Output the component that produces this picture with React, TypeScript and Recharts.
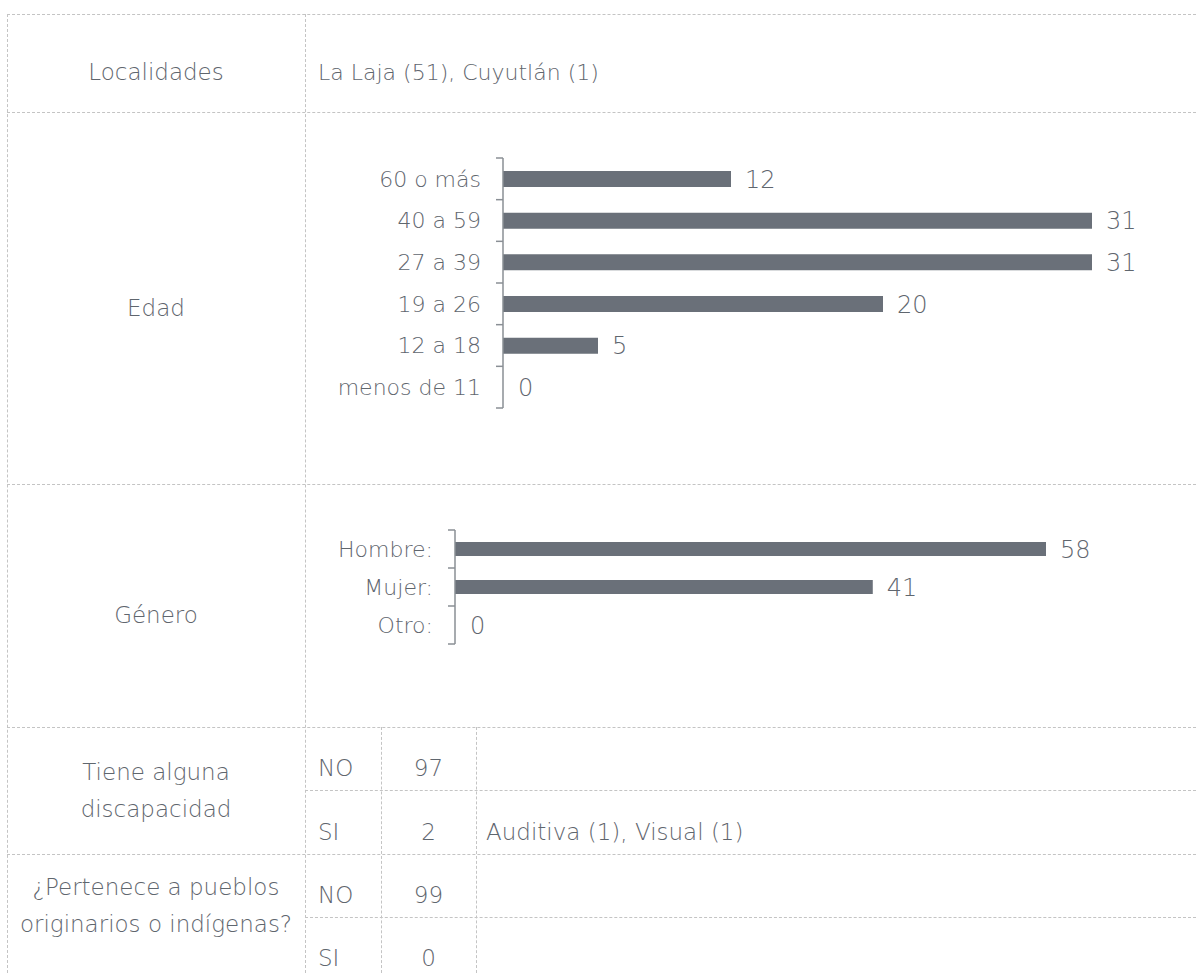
import React from 'react';
import { BarChart, Bar, XAxis, YAxis, LabelList, Cell } from 'recharts';

const FONT = '"DejaVu Sans", sans-serif';
const TEXT_COLOR = '#5f666e';
const BAR_COLOR = '#6a7079';
const AXIS_COLOR = '#8a8f95';
const LINE = '1px dashed #c4c4c4';

// datos
const LOCALIDADES = 'La Laja (51), Cuyutlán (1)';
const EDAD_CATEGORIAS = ['60 o más', '40 a 59', '27 a 39', '19 a 26', '12 a 18', 'menos de 11'];
const EDAD_VALORES = [12, 31, 31, 20, 5, 0];
const GENERO_CATEGORIAS = ['Hombre:', 'Mujer:', 'Otro:'];
const GENERO_VALORES = [58, 41, 0];
const DISCAPACIDAD_RESPUESTAS = ['NO', 'SI'];
const DISCAPACIDAD_VALORES = [97, 2];
const DISCAPACIDAD_DETALLE = ['', 'Auditiva (1), Visual (1)'];
const INDIGENA_RESPUESTAS = ['NO', 'SI'];
const INDIGENA_VALORES = [99, 0];

const edadData = EDAD_CATEGORIAS.map((name, i) => ({ name, value: EDAD_VALORES[i] }));
const generoData = GENERO_CATEGORIAS.map((name, i) => ({ name, value: GENERO_VALORES[i] }));

const TICK_SIZE = 7;
const TICK_MARGIN = 15;

function BracketTick(props: any) {
  const { x, y, payload, index, band } = props;
  const ax = x + TICK_SIZE + TICK_MARGIN;
  return (
    <g>
      <text x={x} y={y} dy="0.36em" textAnchor="end" fill={TEXT_COLOR} fontSize={22}>
        {payload.value}
      </text>
      <line x1={ax - TICK_SIZE} x2={ax} y1={y + band / 2} y2={y + band / 2} stroke={AXIS_COLOR} strokeWidth={1.5} />
      {index === 0 && (
        <line x1={ax - TICK_SIZE} x2={ax} y1={y - band / 2} y2={y - band / 2} stroke={AXIS_COLOR} strokeWidth={1.5} />
      )}
    </g>
  );
}

function HBars({ data, width, height, margin, axisWidth, barSize, band }: any) {
  return (
    <BarChart width={width} height={height} data={data} layout="vertical" margin={margin}>
      <XAxis type="number" hide domain={[0, 'dataMax']} />
      <YAxis
        type="category"
        dataKey="name"
        width={axisWidth}
        tickSize={TICK_SIZE}
        tickMargin={TICK_MARGIN}
        tickLine={false}
        axisLine={{ stroke: AXIS_COLOR, strokeWidth: 1.5 }}
        tick={(p: any) => <BracketTick {...p} band={band} />}
        interval={0}
      />
      <Bar dataKey="value" fill={BAR_COLOR} barSize={barSize} minPointSize={1} isAnimationActive={false}>
        {data.map((d: any, i: number) => (
          <Cell key={i} fill={d.value === 0 ? 'transparent' : BAR_COLOR} />
        ))}
        <LabelList dataKey="value" position="right" offset={14} fill={TEXT_COLOR} fontSize={24} />
      </Bar>
    </BarChart>
  );
}

const H = (x1: number, x2: number, y: number) => (
  <div style={{ position: 'absolute', left: x1, top: y, width: x2 - x1, height: 0, borderTop: LINE }} />
);
const V = (x: number, y1: number, y2: number) => (
  <div style={{ position: 'absolute', left: x, top: y1, width: 0, height: y2 - y1, borderLeft: LINE }} />
);

const txt = (content: React.ReactNode, left: number, top: number, width: number, height: number, align: any = 'center') => (
  <div
    style={{
      position: 'absolute', left, top, width, height, display: 'flex', alignItems: 'center',
      justifyContent: align === 'center' ? 'center' : 'flex-start', textAlign: align, lineHeight: '37px',
    }}
  >
    <div>{content}</div>
  </div>
);

export default function App() {
  return (
    <div
      style={{
        position: 'absolute', left: 0, top: 0, width: 1196, height: 973, overflow: 'hidden',
        background: '#fff', fontFamily: FONT, fontWeight: 200, color: TEXT_COLOR, fontSize: 23,
      }}
    >
      {H(7, 1196, 14)}
      {H(7, 1196, 112)}
      {H(7, 1196, 484)}
      {H(7, 1196, 727)}
      {H(305, 1196, 790)}
      {H(7, 1196, 854)}
      {H(305, 1196, 917)}
      {V(7, 14, 973)}
      {V(305, 14, 973)}
      {V(381, 727, 973)}
      {V(476, 727, 973)}

      {txt('Localidades', 7, 32, 298, 80)}
      {txt(<span style={{ fontSize: 22 }}>{LOCALIDADES}</span>, 318, 32, 870, 80, 'left')}
      {txt('Edad', 7, 132, 298, 352)}
      {txt('Género', 7, 504, 298, 223)}
      {txt(<>Tiene alguna<br />discapacidad</>, 7, 727, 298, 127)}
      {txt(<>¿Pertenece a pueblos<br />originarios o indígenas?</>, 7, 856, 298, 100)}

      {DISCAPACIDAD_RESPUESTAS.map((r, i) => (
        <React.Fragment key={'d' + r}>
          {txt(r, 318, 737 + i * 64, 60, 63, 'left')}
          {txt(String(DISCAPACIDAD_VALORES[i]), 381, 737 + i * 64, 95, 63)}
          {txt(DISCAPACIDAD_DETALLE[i], 486, 737 + i * 64, 700, 63, 'left')}
        </React.Fragment>
      ))}
      {INDIGENA_RESPUESTAS.map((r, i) => (
        <React.Fragment key={'p' + r}>
          {txt(r, 318, 864 + i * 63, 60, 63, 'left')}
          {txt(String(INDIGENA_VALORES[i]), 381, 864 + i * 63, 95, 63)}
        </React.Fragment>
      ))}

      <div style={{ position: 'absolute', left: 305, top: 112 }}>
        <HBars
          data={edadData}
          width={891}
          height={372}
          margin={{ top: 46, right: 104, bottom: 76, left: 0 }}
          axisWidth={198}
          barSize={16}
          band={250 / EDAD_CATEGORIAS.length}
        />
      </div>
      <div style={{ position: 'absolute', left: 305, top: 484 }}>
        <HBars
          data={generoData}
          width={891}
          height={243}
          margin={{ top: 46, right: 150, bottom: 83, left: 0 }}
          axisWidth={150}
          barSize={14}
          band={114 / GENERO_CATEGORIAS.length}
        />
      </div>
    </div>
  );
}
